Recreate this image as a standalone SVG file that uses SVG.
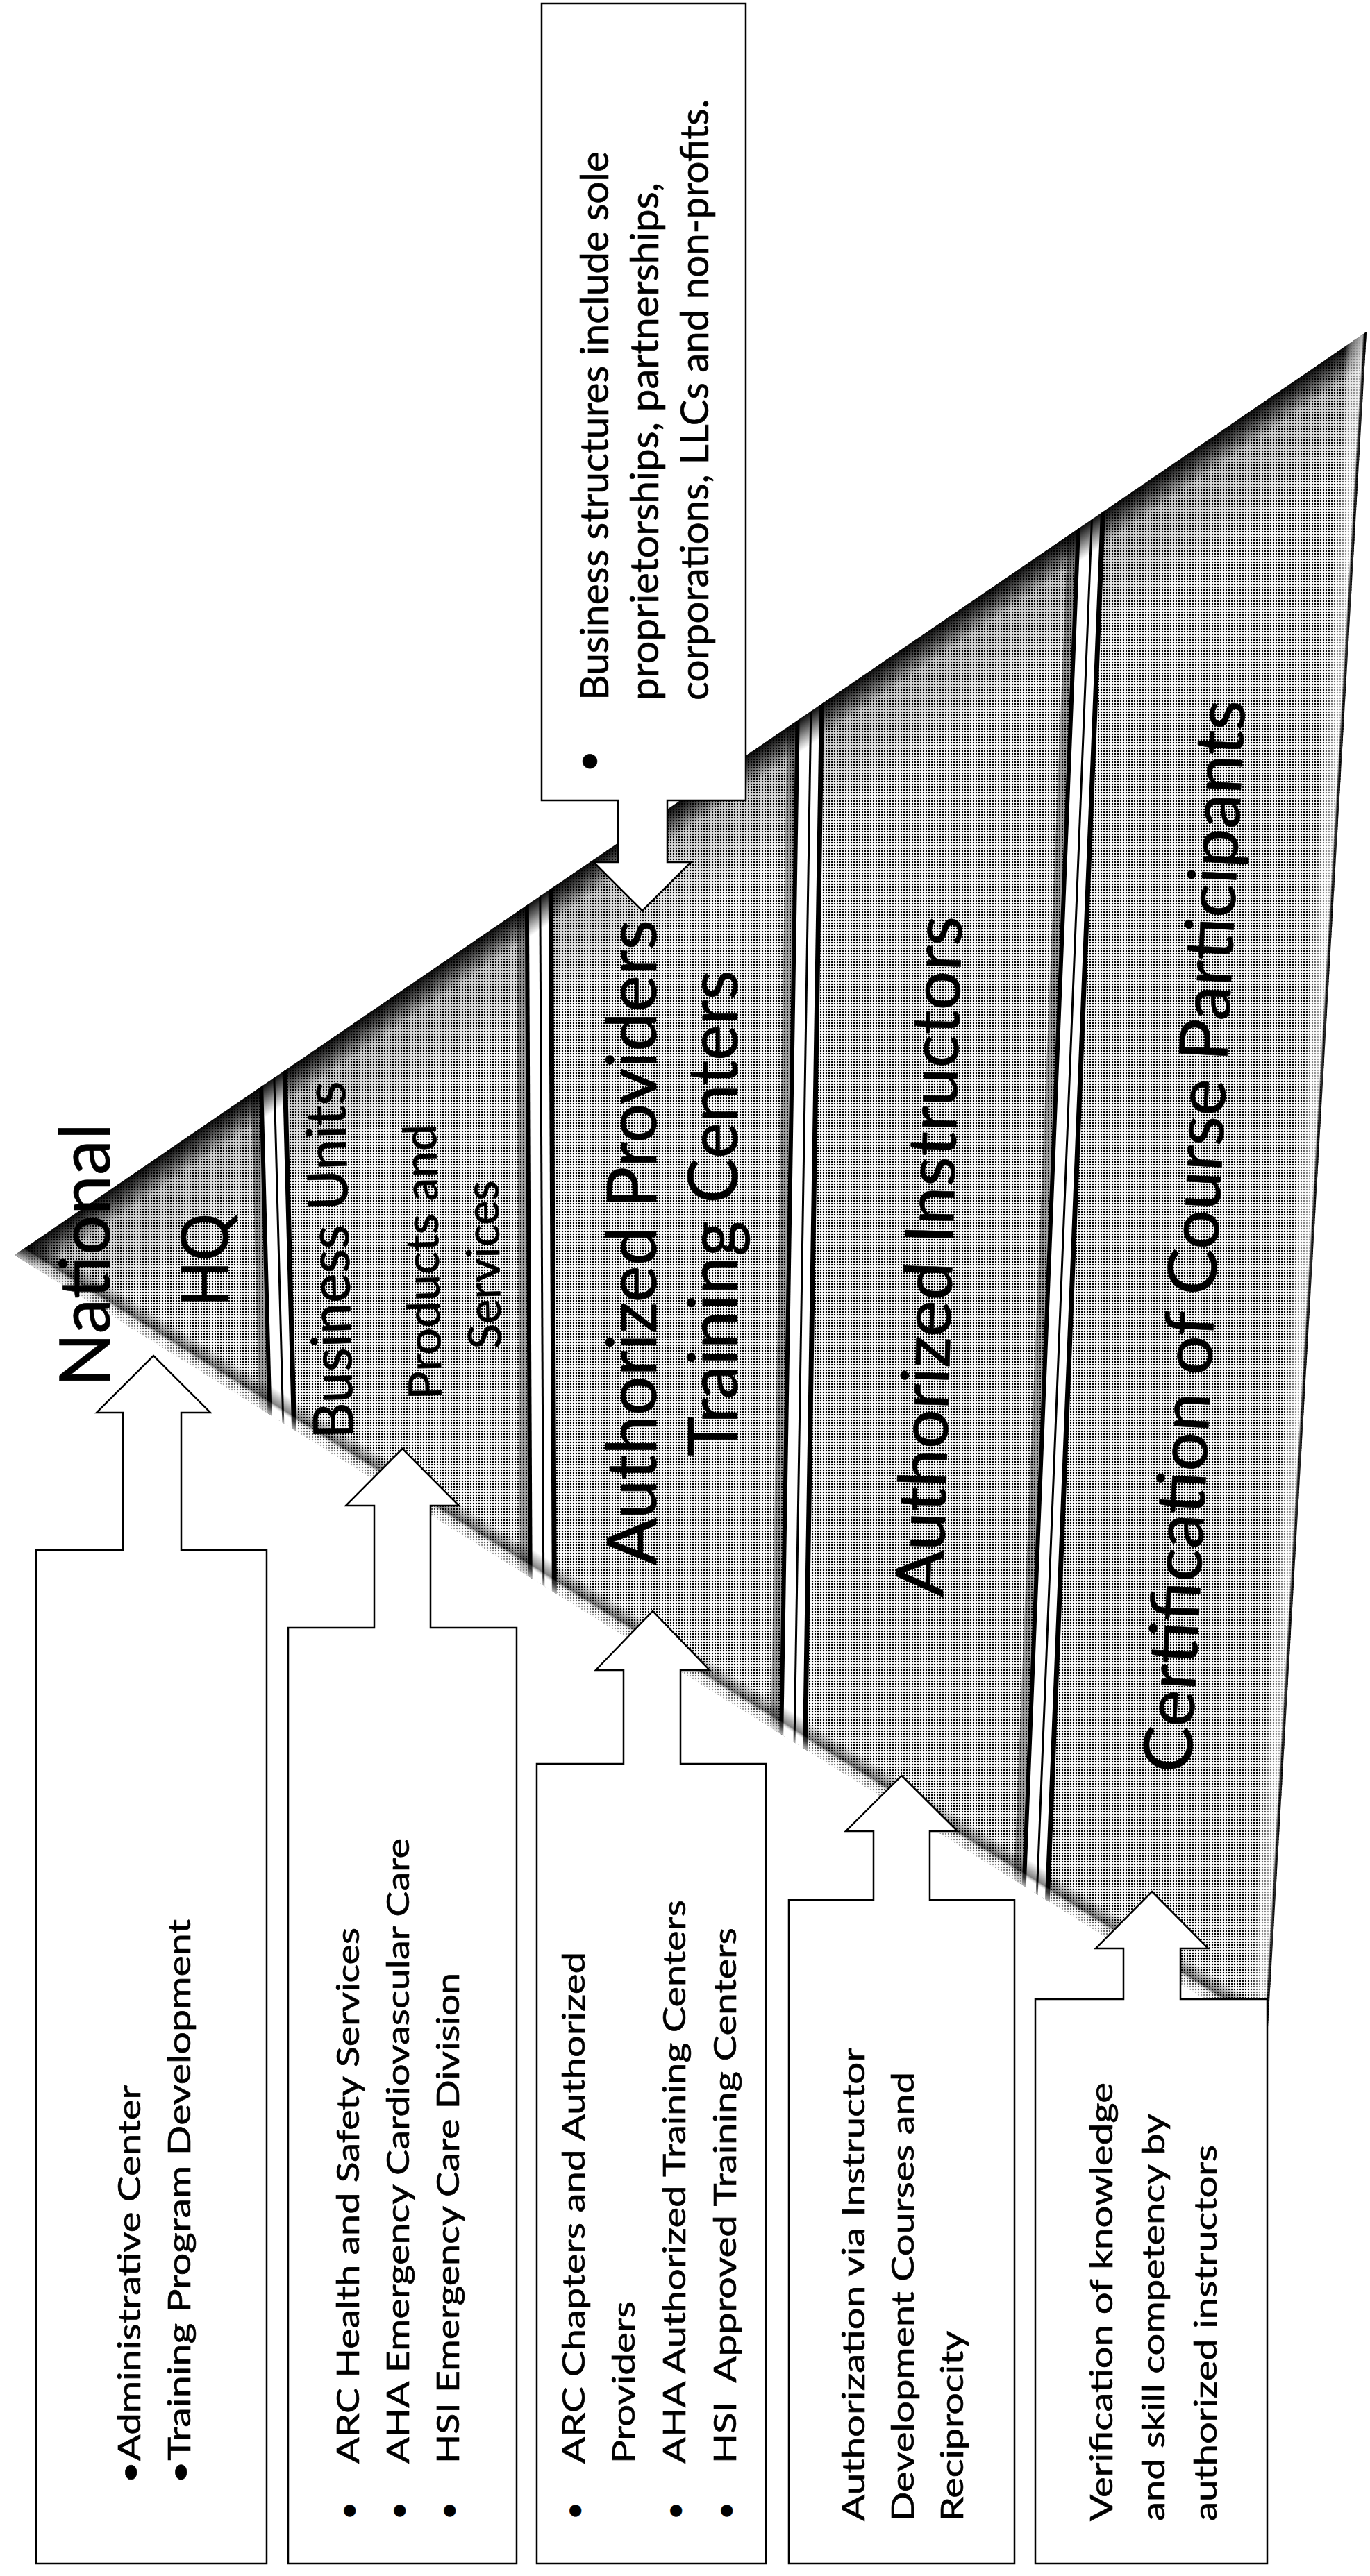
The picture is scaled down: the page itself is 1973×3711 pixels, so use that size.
<svg xmlns="http://www.w3.org/2000/svg" xmlns:xlink="http://www.w3.org/1999/xlink" width="1973" height="3711" viewBox="0 0 1973 3711">
<style>
.co{fill:#fff;stroke:#000;stroke-width:2.5;stroke-linejoin:miter}
.t{font-family:Lato,"Liberation Sans","Noto Sans",sans-serif;fill:#000;stroke:#000;stroke-width:0.6}
.ct{font-size:45px}
.tb{font-size:56px}
</style>
<defs>
<pattern id="dots" width="4" height="4" patternUnits="userSpaceOnUse">
<rect width="4" height="4" fill="#fff"/>
<circle cx="2" cy="2" r="1.2" fill="#000"/>
</pattern>
<clipPath id="tri"><polygon points="21,1808 1968,478 1825,2936"/></clipPath>
<linearGradient id="gTop" gradientUnits="userSpaceOnUse" x1="21" y1="1808" x2="43.562" y2="1841.03">
<stop offset="0" stop-color="#000" stop-opacity="0.95"/>
<stop offset="0.4" stop-color="#000" stop-opacity="0.6"/>
<stop offset="1" stop-color="#000" stop-opacity="0"/>
</linearGradient>
<linearGradient id="gTopWide" gradientUnits="userSpaceOnUse" x1="21" y1="1808" x2="105.6" y2="1931.9">
<stop offset="0" stop-color="#000" stop-opacity="0.25"/>
<stop offset="1" stop-color="#000" stop-opacity="0"/>
</linearGradient>
<linearGradient id="gLow" gradientUnits="userSpaceOnUse" x1="21" y1="1808" x2="40.086" y2="1777.476">
<stop offset="0" stop-color="#fff" stop-opacity="0.7"/>
<stop offset="0.3" stop-color="#fff" stop-opacity="0.2"/>
<stop offset="0.45" stop-color="#000" stop-opacity="0.5"/>
<stop offset="1" stop-color="#000" stop-opacity="0"/>
</linearGradient>
<linearGradient id="gRight" gradientUnits="userSpaceOnUse" x1="1968" y1="478" x2="1938.051" y2="476.258">
<stop offset="0" stop-color="#000" stop-opacity="0.9"/>
<stop offset="0.1" stop-color="#000" stop-opacity="0.8"/>
<stop offset="0.18" stop-color="#fff" stop-opacity="0.7"/>
<stop offset="0.7" stop-color="#fff" stop-opacity="0.4"/>
<stop offset="1" stop-color="#fff" stop-opacity="0"/>
</linearGradient>
<g id="divider">
<rect x="-34" y="0" width="14" height="2550" fill="#000" opacity="0.35"/>
<rect x="-18" y="0" width="32" height="2550" fill="#fff"/>
<rect x="-22" y="0" width="6" height="2550" fill="#000"/>
<rect x="-1.5" y="0" width="3" height="2550" fill="#000"/>
<rect x="12" y="0" width="7" height="2550" fill="#000"/>
</g>
</defs>
<rect width="1973" height="3711" fill="#fff"/>

<g id="pyramid">
<polygon points="21,1808 1968,478 1825,2936" fill="url(#dots)"/>
<polygon points="21,1808 1968,478 1825,2936" fill="url(#gTopWide)"/>
<g clip-path="url(#tri)">
<use xlink:href="#divider" transform="matrix(1,0,0.026,1,366.2,450)"/>
<use xlink:href="#divider" transform="matrix(1,0,0.005,1,773.6,450)"/>
<use xlink:href="#divider" transform="matrix(1,0,-0.016,1,1177,450)"/>
<use xlink:href="#divider" transform="matrix(1,0,-0.040,1,1584.4,450)"/>
</g>
<polygon points="21,1808 1968,478 1825,2936" fill="url(#gTop)"/>
<polygon points="21,1808 1968,478 1825,2936" fill="url(#gLow)"/>
<polygon points="21,1808 1968,478 1825,2936" fill="url(#gRight)"/>
</g>

<g id="labels">
<text class="t" font-size="100" transform="translate(158,1998) rotate(-90)" textLength="380" lengthAdjust="spacingAndGlyphs">National</text>
<text class="t" font-size="94" transform="translate(328,1882) rotate(-90)" textLength="134" lengthAdjust="spacingAndGlyphs">HQ</text>
<text class="t" font-size="80" transform="translate(509,2072) rotate(-91.4)" textLength="515" lengthAdjust="spacingAndGlyphs">Business Units</text>
<text class="t" font-size="66" transform="translate(636,2016) rotate(-91.2)" textLength="397" lengthAdjust="spacingAndGlyphs">Products and</text>
<text class="t" font-size="66" transform="translate(722,1943) rotate(-91.2)" textLength="243" lengthAdjust="spacingAndGlyphs">Services</text>
<text class="t" font-size="98" transform="translate(945,2255) rotate(-90)" textLength="930" lengthAdjust="spacingAndGlyphs">Authorized Providers</text>
<text class="t" font-size="98" transform="translate(1062,2098) rotate(-90)" textLength="700" lengthAdjust="spacingAndGlyphs">Training Centers</text>
<text class="t" font-size="96" transform="translate(1358,2301) rotate(-88.4)" textLength="981" lengthAdjust="spacingAndGlyphs">Authorized Instructors</text>
<text class="t" font-size="97" transform="translate(1715,2555) rotate(-87.1)" textLength="1547" lengthAdjust="spacingAndGlyphs">Certification of Course Participants</text>
</g>

<g id="connectors"></g>

<g id="callout-top">
<polygon class="co" points="780,5 1074,5 1074,1153 961,1153 961,1242 995,1242 925,1312 855,1242 890,1242 890,1153 780,1153"/>
<text class="t tb" transform="translate(866,1113) rotate(-90)">•</text>
<text class="t tb" transform="translate(876,1009) rotate(-90)" textLength="791" lengthAdjust="spacingAndGlyphs">Business structures include sole</text>
<text class="t tb" transform="translate(948,1009) rotate(-90)" textLength="746" lengthAdjust="spacingAndGlyphs">proprietorships, partnerships,</text>
<text class="t tb" transform="translate(1020,1009) rotate(-90)" textLength="866" lengthAdjust="spacingAndGlyphs">corporations, LLCs and non-profits.</text>
</g>

<g id="callout-national">
<polygon class="co" points="52,3693 52,2233 177,2233 177,2035 139,2035 221,1953 303,2035 261,2035 261,2233 384,2233 384,3693"/>
<text class="t ct" transform="translate(202,3578) rotate(-90)" textLength="574" lengthAdjust="spacingAndGlyphs">•Administrative Center</text>
<text class="t ct" transform="translate(274,3578) rotate(-90)" textLength="813" lengthAdjust="spacingAndGlyphs">•Training Program Development</text>
</g>

<g id="callout-business">
<polygon class="co" points="415,3693 415,2345 539,2345 539,2169 498,2169 579.5,2087 661,2169 620,2169 620,2345 744,2345 744,3693"/>
<text class="t ct" transform="translate(517,3630) rotate(-90)">•</text>
<text class="t ct" transform="translate(589,3630) rotate(-90)">•</text>
<text class="t ct" transform="translate(661,3630) rotate(-90)">•</text>
<text class="t ct" transform="translate(517,3549) rotate(-90)" textLength="772" lengthAdjust="spacingAndGlyphs">ARC Health and Safety Services</text>
<text class="t ct" transform="translate(589,3549) rotate(-90)" textLength="901" lengthAdjust="spacingAndGlyphs">AHA Emergency Cardiovascular Care</text>
<text class="t ct" transform="translate(661,3549) rotate(-90)" textLength="707" lengthAdjust="spacingAndGlyphs">HSI Emergency Care Division</text>
</g>

<g id="callout-providers">
<polygon class="co" points="773,3693 773,2541 898,2541 898,2406 858,2406 940,2321 1022,2406 980,2406 980,2541 1103,2541 1103,3693"/>
<text class="t ct" transform="translate(842,3630) rotate(-90)">•</text>
<text class="t ct" transform="translate(987,3630) rotate(-90)">•</text>
<text class="t ct" transform="translate(1060,3630) rotate(-90)">•</text>
<text class="t ct" transform="translate(842,3549) rotate(-90)" textLength="737" lengthAdjust="spacingAndGlyphs">ARC Chapters and Authorized</text>
<text class="t ct" transform="translate(914,3549) rotate(-90)" textLength="234" lengthAdjust="spacingAndGlyphs">Providers</text>
<text class="t ct" transform="translate(987,3549) rotate(-90)" textLength="812" lengthAdjust="spacingAndGlyphs">AHA Authorized Training Centers</text>
<text class="t ct" xml:space="preserve" transform="translate(1060,3549) rotate(-90)" textLength="772" lengthAdjust="spacingAndGlyphs">HSI  Approved Training Centers</text>
</g>

<g id="callout-instructors">
<polygon class="co" points="1136,3693 1136,2737 1258,2737 1258,2638 1218,2638 1298.5,2558 1379,2638 1339,2638 1339,2737 1461,2737 1461,3693"/>
<text class="t ct" transform="translate(1245,3632) rotate(-90)" textLength="682" lengthAdjust="spacingAndGlyphs">Authorization via Instructor</text>
<text class="t ct" transform="translate(1316,3632) rotate(-90)" textLength="647" lengthAdjust="spacingAndGlyphs">Development Courses and</text>
<text class="t ct" transform="translate(1387,3632) rotate(-90)" textLength="274" lengthAdjust="spacingAndGlyphs">Reciprocity</text>
</g>

<g id="callout-participants">
<polygon class="co" points="1491,3693 1491,2880 1618,2880 1618,2807 1578,2807 1659,2725 1740,2807 1700,2807 1700,2880 1825,2880 1825,3693"/>
<text class="t ct" transform="translate(1602,3632) rotate(-90)" textLength="632" lengthAdjust="spacingAndGlyphs">Verification of knowledge</text>
<text class="t ct" transform="translate(1677,3632) rotate(-90)" textLength="587" lengthAdjust="spacingAndGlyphs">and skill competency by</text>
<text class="t ct" transform="translate(1752,3632) rotate(-90)" textLength="542" lengthAdjust="spacingAndGlyphs">authorized instructors</text>
</g>
</svg>
